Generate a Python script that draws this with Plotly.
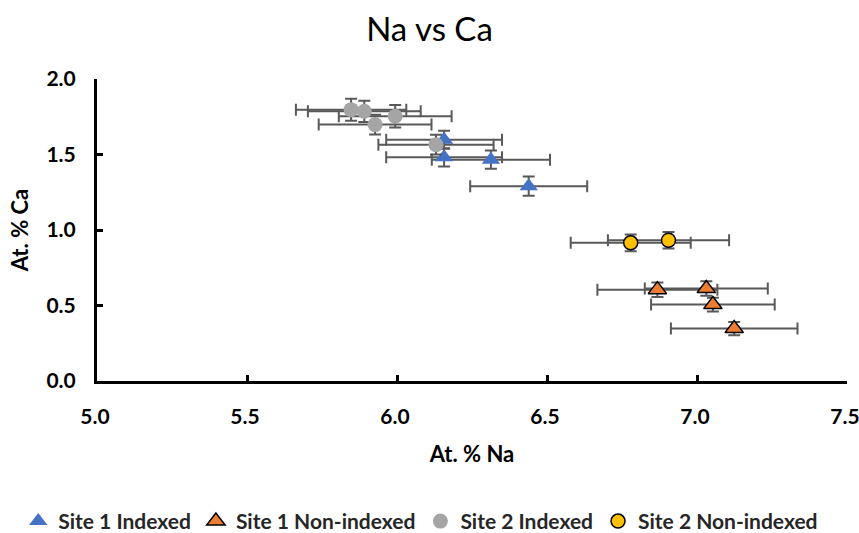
import plotly.graph_objects as go

# Site 1 indexed
s1_idx_na = [6.157, 6.157, 6.313, 6.439]
s1_idx_ca = [1.598, 1.481, 1.466, 1.290]
s1_idx_na_err = [0.193, 0.193, 0.197, 0.195]
s1_idx_ca_err = [0.060, 0.060, 0.060, 0.064]

# Site 1 non-indexed
s1_non_na = [6.868, 7.031, 7.053, 7.124]
s1_non_ca = [0.605, 0.612, 0.506, 0.347]
s1_non_na_err = [0.200, 0.205, 0.206, 0.211]
s1_non_ca_err = [0.048, 0.048, 0.045, 0.044]

# Site 2 indexed
s2_idx_na = [5.847, 5.891, 5.994, 5.927, 6.130]
s2_idx_ca = [1.797, 1.786, 1.753, 1.698, 1.565]
s2_idx_na_err = [0.184, 0.188, 0.188, 0.188, 0.192]
s2_idx_ca_err = [0.073, 0.070, 0.075, 0.066, 0.065]

# Site 2 non-indexed
s2_non_na = [6.779, 6.905]
s2_non_ca = [0.915, 0.932]
s2_non_na_err = [0.200, 0.202]
s2_non_ca_err = [0.055, 0.055]

x_ticks = [5.0, 5.5, 6.0, 6.5, 7.0, 7.5]
y_ticks = [0.0, 0.5, 1.0, 1.5, 2.0]

ERR_COLOR = "#595959"
FONT = "Lato"


def err(vals, cap):
    return dict(type="data", array=vals, visible=True, color=ERR_COLOR,
                thickness=2, width=cap)


series = [
    ("Site 1 Indexed", s1_idx_na, s1_idx_ca, s1_idx_na_err, s1_idx_ca_err,
     dict(symbol="triangle-up", size=16, color="#4472C4",
          line=dict(width=0, color="#4472C4"))),
    ("Site 1 Non-indexed", s1_non_na, s1_non_ca, s1_non_na_err, s1_non_ca_err,
     dict(symbol="triangle-up", size=16, color="#ED7D31",
          line=dict(width=1.5, color="#000000"))),
    ("Site 2 Indexed", s2_idx_na, s2_idx_ca, s2_idx_na_err, s2_idx_ca_err,
     dict(symbol="circle", size=15, color="#A5A5A5",
          line=dict(width=0, color="#A5A5A5"))),
    ("Site 2 Non-indexed", s2_non_na, s2_non_ca, s2_non_na_err, s2_non_ca_err,
     dict(symbol="circle", size=14, color="#FFC000",
          line=dict(width=1.5, color="#000000"))),
]

fig = go.Figure()
for name, xs, ys, xe, ye, marker in series:
    fig.add_trace(go.Scatter(
        x=xs, y=ys, mode="markers", name=name, marker=marker,
        error_x=err(xe, 6), error_y=err(ye, 6),
    ))

axis_common = dict(
    showline=True, linecolor="black", linewidth=3,
    ticks="inside", ticklen=6, tickwidth=2.5, tickcolor="black",
    showgrid=False, zeroline=False, mirror=False,
    tickfont=dict(family=FONT, size=21, color="black", weight="bold"),
    ticklabeloverflow="allow",
    automargin=False,
)

fig.update_layout(
    width=859, height=533,
    margin=dict(l=97, r=12, t=79, b=152, autoexpand=False),
    paper_bgcolor="white", plot_bgcolor="white",
    title=dict(text="Na vs Ca", x=0.5, xanchor="center", y=0.945,
               yanchor="middle",
               font=dict(family=FONT, size=33, color="black")),
    xaxis=dict(range=[5.0, 7.5], tickvals=x_ticks,
               ticktext=[f"{v:.1f}" for v in x_ticks],
               ticklabelstandoff=15, ticklabelshift=-2,
               title=dict(text="At. % Na", standoff=20,
                          font=dict(family=FONT, size=22, color="black",
                                    weight="bold")),
               **axis_common),
    yaxis=dict(range=[0.0, 2.0], tickvals=y_ticks,
               ticktext=[f"{v:.1f}" for v in y_ticks],
               ticklabelstandoff=14,
               title=dict(text="At. % Ca", standoff=12,
                          font=dict(family=FONT, size=22, color="black",
                                    weight="bold")),
               **axis_common),
    legend=dict(orientation="h", x=-0.105, xanchor="left", y=-0.465,
                yanchor="middle",
                font=dict(family=FONT, size=21, color="#262626", weight="bold"),
                itemwidth=30, tracegroupgap=0),
    showlegend=True,
)

fig.write_html("out.html")
